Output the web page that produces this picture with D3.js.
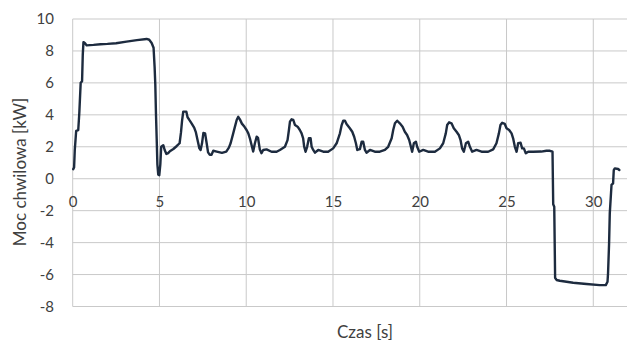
<!DOCTYPE html>
<html>
<head>
<meta charset="utf-8">
<script src="https://cdn.jsdelivr.net/npm/d3@7"></script>
<style>
  html, body { margin: 0; padding: 0; background: #ffffff; }
  svg { display: block; }
  text { font-family: Lato, "Open Sans", sans-serif; fill: #404040; }
</style>
</head>
<body>
<svg id="chart" width="627" height="342"></svg>
<script>
// ---- data ----
const timeS = [0.03,0.08,0.12,0.2,0.32,0.38,0.46,0.54,0.58,0.62,0.7,0.8,1.2,1.6,2.0,2.5,3.1,3.7,4.26,4.41,4.55,4.66,4.72,4.76,4.8,4.84,4.88,4.93,4.99,5.05,5.1,5.22,5.3,5.4,5.5,5.6,5.8,6.0,6.16,6.24,6.3,6.37,6.55,6.62,6.72,6.85,7.0,7.1,7.2,7.3,7.37,7.45,7.53,7.63,7.72,7.8,7.9,8.0,8.1,8.3,8.6,8.85,9.0,9.1,9.25,9.35,9.45,9.54,9.64,9.75,9.9,10.02,10.12,10.21,10.31,10.4,10.5,10.6,10.68,10.78,10.88,10.98,11.17,11.46,11.75,11.94,12.23,12.38,12.46,12.52,12.61,12.71,12.81,12.96,13.09,13.19,13.28,13.34,13.42,13.51,13.61,13.71,13.77,13.86,13.96,14.15,14.44,14.72,15.01,15.21,15.4,15.5,15.59,15.69,15.78,15.97,16.11,16.22,16.32,16.4,16.55,16.65,16.74,16.84,16.93,17.13,17.41,17.7,17.99,18.18,18.38,18.47,18.57,18.7,18.85,19.01,19.14,19.27,19.39,19.49,19.56,19.66,19.78,19.85,19.97,20.2,20.48,20.87,21.16,21.35,21.5,21.58,21.69,21.83,21.96,22.12,22.25,22.35,22.44,22.54,22.66,22.79,22.89,23.02,23.27,23.56,23.94,24.23,24.42,24.56,24.65,24.75,24.9,25.0,25.15,25.29,25.38,25.48,25.58,25.67,25.81,25.9,26.0,26.11,26.25,26.53,27.0,27.3,27.5,27.65,27.69,27.75,27.8,27.88,28.07,28.84,29.61,30.37,30.72,30.82,30.85,30.91,30.95,31.05,31.14,31.18,31.24,31.43,31.5];
const powerKW = [0.6,0.7,1.8,3.0,3.05,4.1,6.0,6.1,7.75,8.55,8.5,8.35,8.38,8.42,8.44,8.48,8.58,8.68,8.75,8.7,8.5,8.2,7.0,5.9,4.0,2.5,0.9,0.25,0.22,0.9,2.0,2.1,1.8,1.55,1.6,1.72,1.86,2.05,2.22,2.9,3.6,4.2,4.2,3.85,3.68,3.47,3.2,2.9,2.4,1.9,1.8,2.2,2.86,2.84,2.22,1.65,1.5,1.5,1.75,1.7,1.62,1.7,1.95,2.22,2.84,3.26,3.68,3.88,3.7,3.45,3.25,3.05,2.84,2.53,2.1,1.7,2.22,2.63,2.55,1.85,1.6,1.8,1.84,1.69,1.69,1.8,2.0,2.42,3.05,3.57,3.72,3.68,3.36,3.26,3.05,2.84,2.53,2.0,1.69,2.0,2.53,2.53,2.0,1.8,1.63,1.8,1.69,1.69,1.9,2.22,2.84,3.36,3.63,3.63,3.43,3.16,2.94,2.63,2.22,1.8,1.85,2.32,2.32,1.8,1.63,1.8,1.69,1.69,1.8,2.0,2.53,3.05,3.47,3.63,3.47,3.26,2.94,2.74,2.42,2.0,1.69,2.22,2.32,2.0,1.69,1.8,1.69,1.69,1.9,2.22,2.84,3.36,3.53,3.47,3.16,2.94,2.74,2.42,1.9,1.69,2.22,2.32,2.0,1.69,1.8,1.69,1.69,1.84,2.22,2.84,3.36,3.5,3.43,3.16,3.05,2.84,2.53,2.0,1.69,2.22,2.25,1.9,1.9,1.59,1.69,1.69,1.7,1.75,1.75,1.69,-1.6,-1.75,-6.2,-6.34,-6.39,-6.51,-6.59,-6.66,-6.66,-6.45,-5.92,-4.05,-2.17,-0.39,-0.29,0.54,0.65,0.61,0.55];
const xTicks = [0, 5, 10, 15, 20, 25, 30];
const yTicks = [-8, -6, -4, -2, 0, 2, 4, 6, 8, 10];
const xTitle = "Czas [s]";
const yTitle = "Moc chwilowa [kW]";

// ---- layout ----
const svg = d3.select("#chart");
const plotLeft = 72.7, plotRight = 628, plotTop = 19, plotBottom = 306.5;
const x = d3.scaleLinear().domain([0, 32]).range([plotLeft, plotRight]);
const y = d3.scaleLinear().domain([-8, 10]).range([plotBottom, plotTop]);

// gridlines (horizontal)
svg.append("g")
  .selectAll("line")
  .data(yTicks)
  .join("line")
  .attr("x1", plotLeft).attr("x2", plotRight)
  .attr("y1", d => y(d)).attr("y2", d => y(d))
  .attr("stroke", "#c9c9c9").attr("stroke-width", 1);

// gridlines (vertical)
svg.append("g")
  .selectAll("line")
  .data(xTicks)
  .join("line")
  .attr("x1", d => x(d)).attr("x2", d => x(d))
  .attr("y1", plotTop).attr("y2", plotBottom)
  .attr("stroke", "#c9c9c9").attr("stroke-width", 1);

// y axis labels
const yAxis = d3.axisLeft(y).tickValues(yTicks).tickSize(0).tickPadding(0)
  .tickFormat(d => String(d));
svg.append("g")
  .attr("transform", `translate(54,0)`)
  .call(yAxis)
  .call(g => g.select(".domain").remove())
  .call(g => g.selectAll("text")
    .attr("font-size", 15)
    .attr("font-family", "Lato, 'Open Sans', sans-serif")
    .attr("fill", "#404040")
    .attr("x", 0));

// x axis labels (placed along the y=0 line)
const xAxis = d3.axisBottom(x).tickValues(xTicks).tickSize(0).tickPadding(0)
  .tickFormat(d => String(d));
svg.append("g")
  .attr("transform", `translate(0,${y(0) + 23})`)
  .call(xAxis)
  .call(g => g.select(".domain").remove())
  .call(g => g.selectAll("text")
    .attr("font-size", 15)
    .attr("font-family", "Lato, 'Open Sans', sans-serif")
    .attr("fill", "#404040")
    .attr("y", 0).attr("dy", "0.35em"));

// line
const pts = timeS.map((t, i) => [t, powerKW[i]]);
const line = d3.line().x(d => x(d[0])).y(d => y(d[1]));
svg.append("path")
  .datum(pts)
  .attr("d", line)
  .attr("fill", "none")
  .attr("stroke", "#1d2b3f")
  .attr("stroke-width", 2.4)
  .attr("stroke-linejoin", "round")
  .attr("stroke-linecap", "round");

// axis titles
svg.append("text")
  .attr("x", 365).attr("y", 338)
  .attr("text-anchor", "middle")
  .attr("font-size", 17)
  .text(xTitle);

svg.append("text")
  .attr("transform", "translate(26,172) rotate(-90)")
  .attr("text-anchor", "middle")
  .attr("font-size", 17)
  .text(yTitle);
</script>
</body>
</html>
